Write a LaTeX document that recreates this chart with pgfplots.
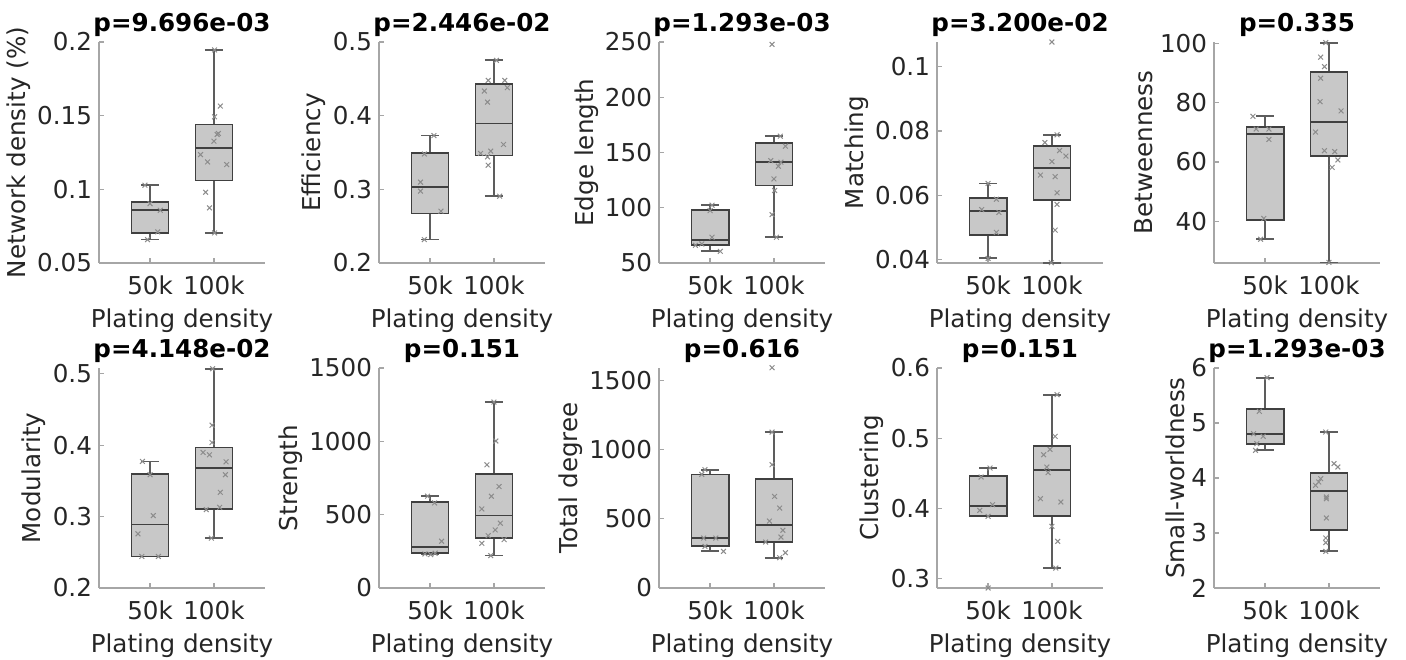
\documentclass[border=0pt]{standalone}
\usepackage{fontspec}
\setmainfont{DejaVu Sans}
\usepackage{pgfplots}
\pgfplotsset{compat=1.18}
\definecolor{boxfill}{HTML}{C8C8C8}
\definecolor{boxedge}{HTML}{404040}
\definecolor{ptgray}{HTML}{8C8C8C}
\definecolor{axgray}{HTML}{A6A6A6}
\definecolor{txt}{HTML}{262626}

\pgfplotsset{
  panel/.style={
    scale only axis, width=83pt, height=110.5pt,
    xmin=0.2, xmax=2.8, xtick={1,2}, xticklabels={50k,100k},
    axis x line*=bottom, axis y line*=left,
    axis line style={-, draw=axgray, line width=0.6pt},
    tick align=inside, major tick length=2.5pt,
    tick style={draw=axgray, line width=0.6pt},
    font=\fontsize{12.3}{14}\selectfont,
    every tick label/.append style={text=txt},
    xticklabel style={yshift=-3pt},
    yticklabel style={/pgf/number format/fixed, /pgf/number format/precision=2},
    /pgf/number format/assume math mode=true,
    /pgf/number format/1000 sep={},
    scaled y ticks=false,
    label style={text=txt},
    ylabel shift=-3.5pt,
    xlabel={Plating density},
    title style={font=\fontsize{12.3}{14}\selectfont\bfseries, text=black, yshift=-7pt},
    clip=false,
  },
  bx/.style={draw=boxedge, fill=boxfill, line width=0.9pt, solid, mark=none},
  md/.style={draw=boxedge, line width=0.9pt, solid, mark=none},
  wh/.style={draw=boxedge!85!white, line width=0.9pt, solid, mark=none},
  pts/.style={only marks, mark=x, mark size=1.7pt, draw=ptgray, mark options={line width=0.5pt}},
}
% box at 50k: lower whisker, lower quartile, median, upper quartile, upper whisker
\newcommand{\boxone}[5]{%
  \addplot[wh] coordinates {(1,#1) (1,#2)};
  \addplot[wh] coordinates {(1,#4) (1,#5)};
  \addplot[wh] coordinates {(0.86,#1) (1.14,#1)};
  \addplot[wh] coordinates {(0.86,#5) (1.14,#5)};
  \addplot[bx] coordinates {(0.71,#2) (1.29,#2) (1.29,#4) (0.71,#4)} --cycle;
  \addplot[md] coordinates {(0.71,#3) (1.29,#3)};
}
% box at 100k
\newcommand{\boxtwo}[5]{%
  \addplot[wh] coordinates {(2,#1) (2,#2)};
  \addplot[wh] coordinates {(2,#4) (2,#5)};
  \addplot[wh] coordinates {(1.86,#1) (2.14,#1)};
  \addplot[wh] coordinates {(1.86,#5) (2.14,#5)};
  \addplot[bx] coordinates {(1.71,#2) (2.29,#2) (2.29,#4) (1.71,#4)} --cycle;
  \addplot[md] coordinates {(1.71,#3) (2.29,#3)};
}

\begin{document}
\begin{tikzpicture}
\path[use as bounding box] (0,0) rectangle (703pt,329.5pt);

% ---- row 1 ----
\begin{axis}[panel, at={(49.5pt,198pt)}, ymin=0.05, ymax=0.2, ytick={0.05,0.1,0.15,0.2},
  ylabel={Network density (\%)}, title={p=9.696e-03}]
\boxone{0.0659}{0.0704}{0.0862}{0.0912}{0.1028}
\boxtwo{0.0704}{0.106}{0.1282}{0.144}{0.1946}
\addplot[pts] coordinates {(0.92,0.1028) (1.00,0.0903) (1.16,0.0858) (1.12,0.0711) (0.96,0.0659)};
\addplot[pts] coordinates {(2.01,0.1946) (2.10,0.1565) (2.01,0.1492) (2.07,0.1379) (2.05,0.1372) (2.00,0.1327) (1.79,0.1236) (1.90,0.1186) (2.20,0.1168) (1.87,0.0980) (1.93,0.0874) (2.01,0.0704)};
\end{axis}

\begin{axis}[panel, at={(189.5pt,198pt)}, ymin=0.2, ymax=0.5, ytick={0.2,0.3,0.4,0.5},
  ylabel={Efficiency}, title={p=2.446e-02}]
\boxone{0.2318}{0.2671}{0.3034}{0.3496}{0.373}
\boxtwo{0.2907}{0.346}{0.3894}{0.4425}{0.4751}
\addplot[pts] coordinates {(1.06,0.373) (0.91,0.348) (0.85,0.3097) (0.85,0.2975) (1.17,0.2703) (0.91,0.2318)};
\addplot[pts] coordinates {(2.04,0.4751) (1.91,0.4479) (2.17,0.4479) (1.85,0.4334) (2.21,0.438) (1.90,0.4184) (2.15,0.3609) (1.95,0.3518) (1.79,0.3487) (1.90,0.3441) (1.91,0.3328) (2.09,0.2907)};
\end{axis}

\begin{axis}[panel, at={(329.5pt,198pt)}, ymin=50, ymax=250, ytick={50,100,150,200,250},
  ylabel={Edge length}, title={p=1.293e-03}]
\boxone{60.6}{66.0}{71.1}{97.7}{102.3}
\boxtwo{73.3}{120.1}{141.2}{158.8}{164.8}
\addplot[pts] coordinates {(1.03,102.3) (1.00,97.4) (1.03,73.3) (0.87,67.2) (0.77,66.0) (1.16,60.6)};
\addplot[pts] coordinates {(1.97,247.9) (2.10,164.8) (2.18,155.7) (1.95,142.7) (2.11,141.2) (2.07,137.6) (2.00,126.1) (2.01,115.6) (1.97,93.8) (2.04,73.3)};
\end{axis}

\begin{axis}[panel, at={(468.5pt,198pt)}, ymin=0.039, ymax=0.1076, ytick={0.04,0.06,0.08,0.1},
  ylabel={Matching}, title={p=3.200e-02}]
\boxone{0.0406}{0.0477}{0.0552}{0.0593}{0.0637}
\boxtwo{0.0391}{0.0585}{0.0684}{0.0754}{0.0788}
\addplot[pts] coordinates {(1.00,0.0637) (1.13,0.0588) (0.90,0.0556) (1.17,0.0547) (1.13,0.0485) (1.00,0.0404)};
\addplot[pts] coordinates {(2.00,0.1076) (2.08,0.0788) (1.89,0.0764) (2.12,0.0739) (2.22,0.0722) (2.00,0.0705) (1.82,0.0663) (2.05,0.0658) (2.08,0.0608) (2.08,0.0572) (2.05,0.0492) (1.99,0.0391)};
\end{axis}

\begin{axis}[panel, at={(607pt,198pt)}, ymin=26, ymax=100.4, ytick={40,60,80,100},
  ylabel={Betweenness}, title={p=0.335}]
\boxone{34.0}{40.4}{69.4}{71.7}{75.4}
\boxtwo{26.2}{62.0}{73.6}{90.4}{100.2}
\addplot[pts] coordinates {(0.81,75.4) (0.86,71.1) (1.06,71.1) (1.06,67.6) (0.98,41.0) (0.93,34.0)};
\addplot[pts] coordinates {(1.95,100.2) (1.87,95.3) (1.93,92.1) (1.87,88.2) (1.86,80.3) (2.19,77.2) (1.79,70.1) (1.93,63.8) (2.09,63.5) (2.14,60.7) (2.05,58.2) (2.00,26.2)};
\end{axis}

% ---- row 2 ----
\begin{axis}[panel, at={(49.5pt,35.5pt)}, height=110pt, ymin=0.2, ymax=0.508, ytick={0.2,0.3,0.4,0.5},
  ylabel={Modularity}, title={p=4.148e-02}]
\boxone{0.2442}{0.2442}{0.2888}{0.3595}{0.3772}
\boxtwo{0.2698}{0.3107}{0.3679}{0.3967}{0.507}
\addplot[pts] coordinates {(0.88,0.3772) (1.00,0.3586) (1.05,0.3014) (0.81,0.2758) (0.87,0.2442) (1.13,0.2442)};
\addplot[pts] coordinates {(1.98,0.507) (1.97,0.4279) (1.97,0.4037) (1.83,0.3898) (1.93,0.3865) (2.19,0.3767) (2.18,0.3586) (2.10,0.334) (1.88,0.3098) (2.09,0.313) (1.96,0.2698)};
\end{axis}

\begin{axis}[panel, at={(189.5pt,35.5pt)}, height=110pt, ymin=0, ymax=1500, ytick={0,500,1000,1500},
  ylabel={Strength}, title={p=0.151}]
\boxone{228}{239}{278}{585}{626}
\boxtwo{221}{341}{494}{778}{1268}
\addplot[pts] coordinates {(0.96,626) (1.07,580) (1.18,319) (0.92,232) (1.01,228) (1.08,237)};
\addplot[pts] coordinates {(2.00,1268) (2.03,1002) (1.89,840) (2.08,692) (1.96,626) (1.81,539) (2.10,442) (2.02,396) (1.91,357) (2.16,330) (1.81,305) (1.95,221)};
\end{axis}

\begin{axis}[panel, at={(329.5pt,35.5pt)}, height=110pt, ymin=0, ymax=1590, ytick={0,500,1000,1500},
  ylabel={Total degree}, title={p=0.616}]
\boxone{265}{301}{361}{821}{855}
\boxtwo{219}{332}{453}{790}{1127}
\addplot[pts] coordinates {(0.92,855) (0.87,821) (0.90,361) (1.09,361) (0.92,301) (1.21,265)};
\addplot[pts] coordinates {(1.97,1592) (1.97,1127) (1.97,891) (2.01,662) (2.09,578) (1.93,484) (2.14,417) (2.11,368) (1.87,332) (2.18,255) (2.09,219)};
\end{axis}

\begin{axis}[panel, at={(468.5pt,35.5pt)}, height=110pt, ymin=0.2868, ymax=0.6, ytick={0.3,0.4,0.5,0.6},
  ylabel={Clustering}, title={p=0.151}]
\boxone{0.3888}{0.3888}{0.4035}{0.4458}{0.4576}
\boxtwo{0.3152}{0.3888}{0.4543}{0.4885}{0.562}
\addplot[pts] coordinates {(1.03,0.4576) (0.89,0.4448) (0.87,0.3973) (1.07,0.4054) (1.00,0.3888) (1.00,0.2868)};
\addplot[pts] coordinates {(2.08,0.562) (2.05,0.5027) (1.97,0.4842) (1.87,0.4766) (1.92,0.459) (1.94,0.451) (1.82,0.414) (2.14,0.4092) (2.00,0.3746) (2.09,0.3532) (2.06,0.3152)};
\end{axis}

\begin{axis}[panel, at={(607pt,35.5pt)}, height=110pt, ymin=2, ymax=6, ytick={2,3,4,5,6},
  ylabel={Small-worldness}, title={p=1.293e-03}]
\boxone{4.503}{4.612}{4.794}{5.255}{5.824}
\boxtwo{2.667}{3.061}{3.764}{4.091}{4.836}
\addplot[pts] coordinates {(1.03,5.824) (0.91,5.212) (0.82,4.806) (0.97,4.758) (0.87,4.624) (0.85,4.503)};
\addplot[pts] coordinates {(1.95,4.836) (2.08,4.261) (2.14,4.2) (1.87,3.988) (1.79,3.867) (1.84,3.927) (1.96,3.655) (1.96,3.624) (1.96,3.273) (1.95,2.909) (1.95,2.824) (1.95,2.667)};
\end{axis}
\end{tikzpicture}
\end{document}
